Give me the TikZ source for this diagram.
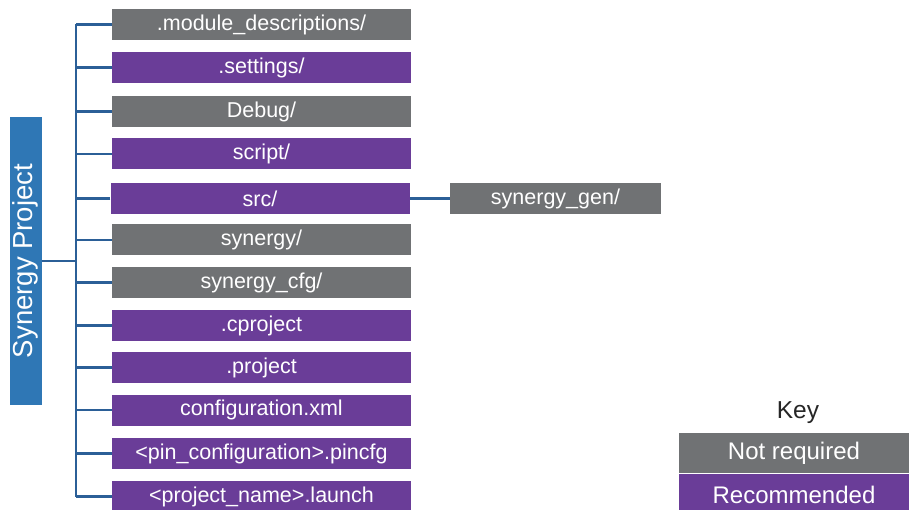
\documentclass[tikz,border=0pt]{standalone}
\usepackage{fontspec}
\setmainfont{Liberation Sans}
\definecolor{grayb}{HTML}{707274}
\definecolor{purpb}{HTML}{6A3D98}
\definecolor{blueb}{HTML}{2F77B5}
\definecolor{linec}{HTML}{2B5F97}
\begin{document}
\begin{tikzpicture}[x=1pt,y=-1pt,
  fbox/.style={inner sep=0pt, minimum width=299pt, minimum height=31pt, text=white, font=\fontsize{21.5}{24}\selectfont},
  gbox/.style={fbox, fill=grayb},
  pbox/.style={fbox, fill=purpb},
  conn/.style={draw=linec, line width=2.6pt},
  keybox/.style={inner sep=0pt, minimum width=230pt, minimum height=40pt, text=white, font=\fontsize{24}{28}\selectfont}
]
\useasboundingbox (0,0) rectangle (909,510);
\node[gbox] (r1) at (261.5,24.5) {.module\_descriptions/};
\node[pbox] (r2) at (261.5,67.5) {.settings/};
\node[gbox] (r3) at (261.5,111.5) {Debug/};
\node[pbox] (r4) at (261.5,154) {script/};
\node[pbox] (r5) at (260,198.5) {src/};
\node[gbox] (r6) at (261.5,240) {synergy/};
\node[gbox] (r7) at (261.5,282.5) {synergy\_cfg/};
\node[pbox] (r8) at (261.5,325.5) {.cproject};
\node[pbox] (r9) at (261.5,367.5) {.project};
\node[pbox] (r10) at (261.5,410) {configuration.xml};
\node[pbox] (r11) at (261.5,453.5) {<pin\_configuration>.pincfg};
\node[pbox] (r12) at (261.5,496.5) {<project\_name>.launch};
\node[gbox, minimum width=211pt] (gen) at (555.5,198.5) {synergy\_gen/};
\node[fill=blueb, text=white, inner sep=0pt, minimum width=288pt, minimum height=32pt,
  rotate=90, font=\fontsize{27.5}{30}\selectfont] (sp) at (25.5,261) {Synergy Project};
\coordinate (trunk) at (76,261);
\draw[conn] (r1.west -| trunk) -- (r12.west -| trunk);
\foreach \i in {1,...,12} {
  \draw[conn] (r\i.west) -- (r\i.west -| trunk);
}
\draw[conn] (sp.south) -- (sp.south -| trunk);
\draw[conn] (r5.east) -- (gen.west);
\node[font=\fontsize{24.5}{28}\selectfont, text=black!85] (key) at (798,413) {Key};
\node[keybox, fill=grayb] (nr) at (794,453) {Not required};
\node[keybox, fill=purpb, minimum height=42pt] (rec) at (794,495) {Recommended};
\end{tikzpicture}
\end{document}
